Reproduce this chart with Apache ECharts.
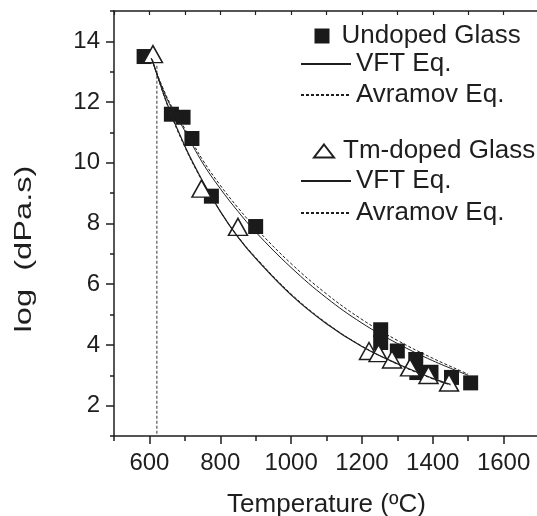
<!DOCTYPE html>
<html>
<head>
<meta charset="utf-8">
<script src="https://cdn.jsdelivr.net/npm/echarts@6/dist/echarts.min.js"></script>
<style>html,body{margin:0;padding:0;background:#fff;}#c{width:537px;height:516px;}</style>
</head>
<body>
<div id="c"></div>
<script>
// Measured points (Temperature °C, log viscosity)
const undopedT = [585, 662, 695, 720, 775, 900, 1253, 1253, 1300, 1352, 1355, 1395, 1453, 1507];
const undopedV = [13.5, 11.6, 11.5, 10.8, 8.9, 7.9, 4.5, 4.08, 3.8, 3.52, 3.09, 3.1, 2.93, 2.75];
const tmT = [610, 747, 850, 1220, 1247, 1285, 1336, 1388, 1446];
const tmV = [13.58, 9.15, 7.89, 3.8, 3.73, 3.52, 3.26, 3.01, 2.76];

// Fitted curves
const fitT = [605, 650, 700, 750, 800, 850, 900, 1000, 1100, 1200, 1300, 1400, 1500];
const undopedVFT = [13.45, 12.1, 11.05, 10.0, 9.15, 8.4, 7.72, 6.55, 5.55, 4.72, 4.05, 3.48, 3.0];
const undopedAvr = [13.45, 12.15, 11.12, 10.1, 9.26, 8.52, 7.85, 6.68, 5.68, 4.84, 4.15, 3.56, 3.04];
const tmFitT = [608, 650, 700, 750, 800, 850, 900, 1000, 1100, 1200, 1300, 1400, 1450];
const tmVFT = [13.4, 11.95, 10.55, 9.4, 8.4, 7.55, 6.85, 5.65, 4.7, 3.95, 3.38, 2.9, 2.7];
const tmAvr = [13.4, 11.92, 10.52, 9.38, 8.4, 7.57, 6.88, 5.68, 4.72, 3.96, 3.37, 2.88, 2.68];

// Vertical reference line
const tgT = [621, 621];
const tgV = [13.2, 1];

// Ticks
const xMajor = [600, 800, 1000, 1200, 1400, 1600];
const xMinor = [500, 700, 900, 1100, 1300, 1500, 1700];
const yMajor = [2, 4, 6, 8, 10, 12, 14];
const yMinor = [1, 3, 5, 7, 9, 11, 13, 15];

const zip = (a, b) => a.map((v, i) => [v, b[i]]);
const FONT = 'Liberation Sans, Arial, sans-serif';
const INK = '#1e1e1e';

const chart = echarts.init(document.getElementById('c'), null, {renderer: 'canvas'});
const legendText = {fontSize: 26, color: INK, fontFamily: FONT};
const hiddenSymbol = {color: 'rgba(0,0,0,0)', borderWidth: 0, opacity: 0};
chart.setOption({
  animation: false,
  backgroundColor: '#fff',
  grid: {left: 114, top: 11, width: 425, height: 425, containLabel: false, outerBoundsMode: 'none'},
  xAxis: [
    {type: 'value', position: 'bottom', min: 500, max: 1700, interval: 100,
     axisLine: {show: true, lineStyle: {color: INK, width: 1.5}},
     axisTick: {show: true, customValues: xMajor, length: 8, lineStyle: {color: INK, width: 1.5}},
     axisLabel: {customValues: xMajor, fontSize: 24, color: INK, fontFamily: FONT, margin: 15,
                 formatter: v => String(v)},
     splitLine: {show: false},
     name: 'Temperature (ºC)', nameLocation: 'middle', nameGap: 56,
     nameTextStyle: {fontSize: 26, color: INK, fontFamily: FONT}},
    {type: 'value', position: 'bottom', min: 500, max: 1700, interval: 100,
     axisLine: {show: false},
     axisTick: {show: true, customValues: xMinor, length: 5, lineStyle: {color: INK, width: 1.5}},
     axisLabel: {show: false}, splitLine: {show: false}},
    {type: 'value', position: 'top', min: 500, max: 1700, interval: 100,
     axisLine: {show: true, lineStyle: {color: INK, width: 1.5}},
     axisTick: {show: true, inside: true, length: 4, lineStyle: {color: INK, width: 1.2}},
     axisLabel: {show: false}, splitLine: {show: false}}
  ],
  yAxis: [
    {type: 'value', position: 'left', min: 1, max: 15, interval: 1,
     axisLine: {show: true, lineStyle: {color: INK, width: 1.5}},
     axisTick: {show: true, customValues: yMajor, length: 8, lineStyle: {color: INK, width: 1.5}},
     axisLabel: {customValues: yMajor, fontSize: 24, color: INK, fontFamily: FONT, margin: 14,
                 formatter: v => String(v)},
     splitLine: {show: false}},
    {type: 'value', position: 'left', min: 1, max: 15, interval: 1,
     axisLine: {show: false},
     axisTick: {show: true, customValues: yMinor, length: 4, lineStyle: {color: INK, width: 1.5}},
     axisLabel: {show: false}, splitLine: {show: false}}
  ],
  legend: [
    {data: ['Undoped Glass'], left: 314.5, top: 23, padding: 0, itemWidth: 15, itemHeight: 15,
     textStyle: Object.assign({padding: [0, 0, 0, 7]}, legendText), selectedMode: false},
    {data: ['VFT Eq.', 'Avramov Eq.'], orient: 'vertical', left: 300, top: 51, padding: 0,
     itemWidth: 50, itemHeight: 14, itemGap: 5, textStyle: legendText, selectedMode: false,
     itemStyle: hiddenSymbol},
    {data: ['Tm-doped Glass'], left: 313, top: 138, padding: 0, itemWidth: 20, itemHeight: 13,
     symbolKeepAspect: false, textStyle: Object.assign({padding: [0, 0, 0, 4]}, legendText), selectedMode: false},
    {data: ['VFT Eq.', 'Avramov Eq.'], orient: 'vertical', left: 300, top: 168, padding: 0,
     itemWidth: 50, itemHeight: 14, itemGap: 6, textStyle: legendText, selectedMode: false,
     itemStyle: hiddenSymbol}
  ],
  graphic: [
    {type: 'text', x: 24, y: 249, rotation: Math.PI / 2, scaleX: 1.36, scaleY: 1,
     style: {text: 'log  (dPa.s)', font: '24px ' + FONT, fill: INK, align: 'center', verticalAlign: 'middle'}}
  ],
  series: [
    {name: 'Tg', type: 'line', data: zip(tgT, tgV), symbol: 'none', z: 2, color: '#555',
     lineStyle: {color: '#555', width: 1.2, type: [3, 2]}},
    {name: 'Undoped Glass', type: 'scatter', data: zip(undopedT, undopedV), symbol: 'rect', symbolSize: 15, z: 3,
     itemStyle: {color: '#1a1a1a', opacity: 1}},
    {name: 'Tm-doped Glass', type: 'scatter', data: zip(tmT, tmV), symbol: 'triangle', symbolSize: [19, 17], z: 4,
     itemStyle: {color: '#fff', borderColor: INK, borderWidth: 1.5, opacity: 1}},
    {name: 'VFT Eq.', type: 'line', data: zip(fitT, undopedVFT), symbol: 'none', smooth: 0.4, z: 5, color: INK,
     lineStyle: {color: INK, width: 1}},
    {name: 'Avramov Eq.', type: 'line', data: zip(fitT, undopedAvr), symbol: 'none', smooth: 0.4, z: 5, color: INK,
     lineStyle: {color: INK, width: 1, type: [3, 2]}},
    {name: 'VFT Eq.', type: 'line', data: zip(tmFitT, tmVFT), symbol: 'none', smooth: 0.4, z: 5, color: INK,
     lineStyle: {color: INK, width: 1.2}},
    {name: 'Avramov Eq.', type: 'line', data: zip(tmFitT, tmAvr), symbol: 'none', smooth: 0.4, z: 5, color: INK,
     lineStyle: {color: INK, width: 1, type: [3, 2]}}
  ]
});
</script>
</body>
</html>
